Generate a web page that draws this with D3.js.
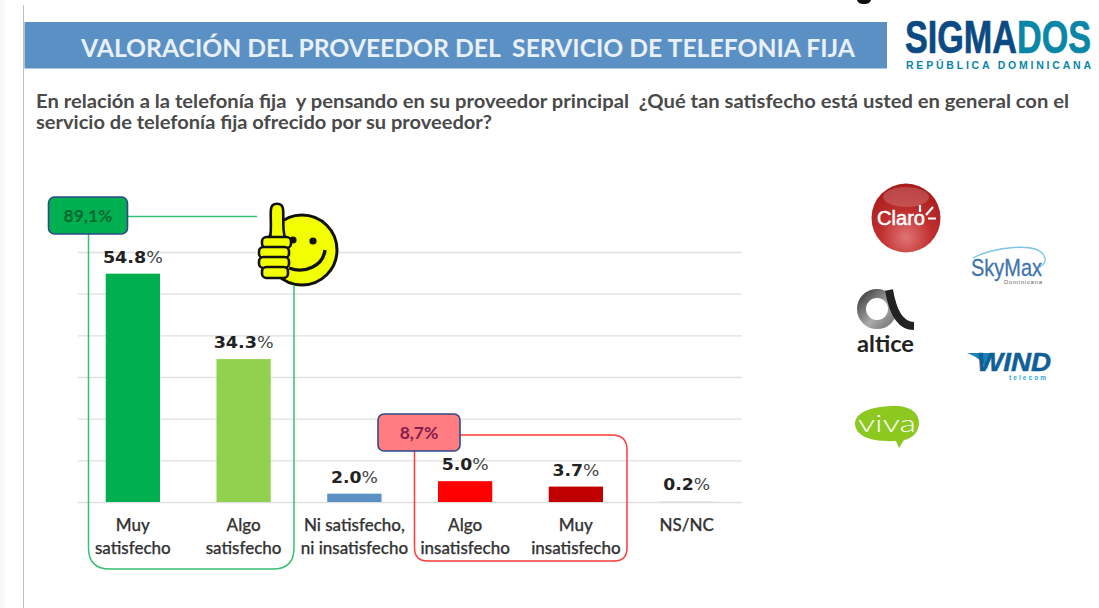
<!DOCTYPE html>
<html><head><meta charset="utf-8">
<script src="https://cdn.jsdelivr.net/npm/d3@7/dist/d3.min.js"></script>
<style>html,body{margin:0;padding:0;background:#fff;overflow:hidden}svg{display:block}text{font-family:Lato,"Open Sans",sans-serif}</style>
</head><body><svg id="c" width="1099" height="608"></svg>
<script>
const categories = ["Muy satisfecho","Algo satisfecho","Ni satisfecho, ni insatisfecho","Algo insatisfecho","Muy insatisfecho","NS/NC"];
const categoryLines = [["Muy","satisfecho"],["Algo","satisfecho"],["Ni satisfecho,","ni insatisfecho"],["Algo","insatisfecho"],["Muy","insatisfecho"],["NS/NC"]];
const values = [54.8,34.3,2.0,5.0,3.7,0.2];
const barColors = ["#00b050","#92d050","#5b90c5","#ff0000","#c00000","#e4e4e4"];
const yTicks = [0,10,20,30,40,50,60];
const titleText = "VALORACIÓN DEL PROVEEDOR DEL  SERVICIO DE TELEFONIA FIJA";
const questionLines = ["En relación a la telefonía fija  y pensando en su proveedor principal  ¿Qué tan satisfecho está usted en general con el","servicio de telefonía fija ofrecido por su proveedor?"];
const positiveTotal = "89,1%";
const negativeTotal = "8,7%";

const svg = d3.select("#c");
const x = d3.scaleBand().domain(categories).range([77.5,742]).paddingInner(0.51).paddingOuter(0.255);
const y = d3.scaleLinear().domain([0,60]).range([502,252]);

// page frame
svg.append("rect").attr("x",0).attr("y",0).attr("width",5).attr("height",608).attr("fill","#f8f8f8");
svg.append("line").attr("x1",23.5).attr("x2",23.5).attr("y1",5).attr("y2",608).attr("stroke","#bdbdbd").attr("stroke-width",1);
svg.append("path").attr("d","M857 0h14c-1 3-3 4-7 4s-6-1-7-4z").attr("fill","#111");

// header
svg.append("rect").attr("x",24.5).attr("y",22).attr("width",862.5).attr("height",46.5).attr("fill","#5b90c5");
svg.append("text").attr("x",81).attr("y",57).attr("font-size",24).attr("font-weight",700).attr("fill","#e9f0f8")
  .style("white-space","pre").attr("textLength",774).attr("lengthAdjust","spacingAndGlyphs").text(titleText);

// sigmados logo
svg.append("text").attr("transform","translate(905,53) scale(1,1.14)").attr("font-size",41).attr("font-weight",700).attr("stroke-width",.6)
  .style("font-family","'Liberation Sans Narrow','Liberation Sans',sans-serif")
  .attr("textLength",186).attr("lengthAdjust","spacingAndGlyphs")
  .call(t=>{t.append("tspan").attr("fill","#0b4a82").attr("stroke","#0b4a82").text("SIGMA");t.append("tspan").attr("fill","#0a86a8").attr("stroke","#0a86a8").text("DOS");});
svg.append("text").attr("x",906).attr("y",69).attr("font-size",10.5).attr("font-weight",700).attr("fill","#0a86a8")
  .style("font-family","'Liberation Sans',sans-serif").attr("textLength",185).text("REPÚBLICA DOMINICANA");

// question
svg.selectAll("text.q").data(questionLines).join("text").attr("class","q").attr("x",36)
  .attr("y",(d,i)=>108+i*21).attr("font-size",18.8).attr("font-weight",700).attr("fill","#4a4a4a")
  .style("white-space","pre").attr("textLength",(d,i)=>i?456:1033).attr("lengthAdjust","spacingAndGlyphs").text(d=>d);

// grid
const gridG = svg.append("g").attr("transform","translate(78,0)")
  .call(d3.axisLeft(y).tickValues(yTicks).tickSize(-664).tickFormat(""));
gridG.select(".domain").remove();
gridG.selectAll("line").attr("stroke","#dfdfdf").attr("stroke-width",1.4);

// bars
svg.selectAll("rect.bar").data(values).join("rect").attr("class","bar")
  .attr("x",(d,i)=>x(categories[i])).attr("width",x.bandwidth())
  .attr("y",d=>y(d)).attr("height",d=>y(0)-y(d)).attr("fill",(d,i)=>barColors[i]);

// value labels
svg.selectAll("text.val").data(values).join("text").attr("class","val")
  .attr("x",(d,i)=>x(categories[i])+x.bandwidth()/2).attr("y",d=>y(d)-11)
  .attr("text-anchor","middle").attr("textLength",d=>d>=10?60:47).attr("lengthAdjust","spacingAndGlyphs")
  .attr("font-size",15).attr("fill","#222")
  .each(function(d){const t=d3.select(this);t.append("tspan").style("font-family","'DejaVu Sans'").attr("font-weight",700).text(d.toFixed(1));
    t.append("tspan").style("font-family","'DejaVu Sans'").attr("fill","#444").text("%");});

// category axis
const xAxis = svg.append("g").attr("transform","translate(0,502)").call(d3.axisBottom(x).tickSize(0).tickFormat(""));
xAxis.select(".domain").remove();
xAxis.selectAll(".tick text").each(function(d,i){
  const t=d3.select(this).attr("y",0).attr("dy",0).attr("font-size",17).attr("font-weight",500)
    .style("font-family","Lato").attr("fill","#333").attr("stroke","#333").attr("stroke-width",.25).attr("text-anchor","middle");
  categoryLines[i].forEach((l,j)=>t.append("tspan").attr("x",0).attr("y",29+j*22.5).text(l));
});

// smiley
const s = svg.append("g");
s.append("rect").attr("x",256).attr("y",201).attr("width",83).attr("height",86).attr("fill","#fff");
s.append("circle").attr("cx",302).attr("cy",250).attr("r",35).attr("fill","#f2ff00").attr("stroke","#111").attr("stroke-width",3);
s.append("circle").attr("cx",313).attr("cy",241).attr("r",3.6).attr("fill","#111");
s.append("circle").attr("cx",293).attr("cy",240).attr("r",3.6).attr("fill","#111");
s.append("path").attr("d","M325 250C323 266 305 274 289 268").attr("fill","none").attr("stroke","#111").attr("stroke-width",3.4);
s.append("path").attr("d","M270 240C272 226 270 216 271 209C272 202 282 202 283 209C284 218 282 228 285 238Z")
  .attr("fill","#f2ff00").attr("stroke","#111").attr("stroke-width",2.6).attr("stroke-linejoin","round");
const fingerRows = [[262,237,29],[259,247,30],[259,257,30],[262,267,26]];
s.selectAll("rect.f").data(fingerRows).join("rect").attr("class","f")
  .attr("x",d=>d[0]).attr("y",d=>d[1]).attr("width",d=>d[2]).attr("height",11).attr("rx",4.5)
  .attr("fill","#f2ff00").attr("stroke","#111").attr("stroke-width",2.6);

// group outlines
svg.append("path").attr("d","M128 216.5H257").attr("fill","none").attr("stroke","#36c172").attr("stroke-width",1.5);
svg.append("path").attr("d","M88.5 234V548Q88.5 569 110 569H273Q294 569 294 548V285").attr("fill","none").attr("stroke","#36c172").attr("stroke-width",1.5);
svg.append("path").attr("d","M460 435H612Q627 435 627 450V548Q627 561 614 561H428Q414.5 561 414.5 548V451").attr("fill","none").attr("stroke","#ff3b3b").attr("stroke-width",1.5);

// badges
function badge(bx,by,w,h,fill,txt,col){
  svg.append("rect").attr("x",bx).attr("y",by).attr("width",w).attr("height",h).attr("rx",6).attr("fill",fill).attr("stroke","#2f4a85").attr("stroke-width",1.6);
  svg.append("text").attr("x",bx+w/2).attr("y",by+h/2+6).attr("text-anchor","middle").attr("font-size",17.5).attr("font-weight",700).attr("fill",col).text(txt);
}
badge(48.5,197,79,37,"#00b050",positiveTotal,"#03682f");
badge(378,414,82,37,"#ff7c80",negativeTotal,"#861d4e");

// provider logos
const defs = svg.append("defs");
const rg = defs.append("radialGradient").attr("id","cl").attr("cx","50%").attr("cy","78%").attr("r","75%");
rg.append("stop").attr("offset","0%").attr("stop-color","#e07474");
rg.append("stop").attr("offset","50%").attr("stop-color","#c02f2f");
rg.append("stop").attr("offset","100%").attr("stop-color","#a81c1c");
const ag = defs.append("linearGradient").attr("id","al").attr("x1","0").attr("y1","0").attr("x2","1").attr("y2","1");
ag.append("stop").attr("offset","0%").attr("stop-color","#444");
ag.append("stop").attr("offset","60%").attr("stop-color","#aaa");
ag.append("stop").attr("offset","100%").attr("stop-color","#777");
svg.append("circle").attr("cx",906).attr("cy",218).attr("r",34.5).attr("fill","url(#cl)");
svg.append("ellipse").attr("cx",906).attr("cy",197).attr("rx",23).attr("ry",10).attr("fill","#fff").attr("opacity",.18);
svg.append("text").attr("x",877).attr("y",225).attr("font-size",20).attr("fill","#fff").attr("stroke","#fff").attr("stroke-width",.5)
  .style("font-family","'Liberation Sans'").attr("textLength",48).attr("lengthAdjust","spacingAndGlyphs").text("Claro");
svg.append("path").attr("d","M920 205V212M933 207L926 215M928 218.5H936").attr("stroke","#fff").attr("stroke-width",2.2).attr("fill","none");

svg.append("path").attr("d","M973 258C990 248 1040 240 1045 258C1046 262 1043 265 1040 267").attr("fill","none").attr("stroke","#7dc4e6").attr("stroke-width",1.3);
svg.append("text").attr("x",971).attr("y",276).attr("font-size",24).attr("fill","#3e74ad").attr("stroke","#3e74ad").attr("stroke-width",.3).style("font-family","'Liberation Sans'").attr("textLength",71).attr("lengthAdjust","spacingAndGlyphs").text("SkyMax");
svg.append("text").attr("x",1004).attr("y",284).attr("font-size",6).attr("fill","#666").style("font-family","'Liberation Sans'").attr("textLength",38).text("Dominicana");

svg.append("circle").attr("cx",877).attr("cy",309).attr("r",15.5).attr("fill","none").attr("stroke","url(#al)").attr("stroke-width",9);
svg.append("path").attr("d","M889 290C892 308 899 326 914 326").attr("fill","none").attr("stroke","#222").attr("stroke-width",8);
svg.append("text").attr("x",857).attr("y",352).attr("font-size",22).attr("font-weight",700).attr("fill","#222")
  .style("font-family","Lato").attr("textLength",57).attr("lengthAdjust","spacingAndGlyphs").text("altice");

svg.append("path").attr("d","M967 353H992L987 369C982 360 975 356 967 353Z").attr("fill","#1a84b8");
svg.append("text").attr("x",977).attr("y",371).attr("font-size",26).attr("font-weight",700).attr("font-style","italic").attr("fill","#105f96").attr("stroke","#105f96").attr("stroke-width",.5)
  .style("font-family","'Liberation Sans'").attr("textLength",74).attr("lengthAdjust","spacingAndGlyphs").text("WIND");
svg.append("text").attr("x",1009).attr("y",380).attr("font-size",6.5).attr("font-weight",700).attr("fill","#2aa5dd")
  .style("font-family","'Liberation Sans'").attr("textLength",37).text("telecom");

svg.append("path").attr("d","M855 424C855 411 875 406 895 406C912 406 919 414 919 423C919 433 911 439 904 440L899 448L896 441C875 442 856 438 855 424Z").attr("fill","#8cc820");
svg.append("text").attr("x",858).attr("y",432).attr("font-size",24).attr("font-weight",300).attr("fill","#fff").style("font-family","Lato").attr("textLength",58).attr("lengthAdjust","spacingAndGlyphs").text("viva");
</script></body></html>
